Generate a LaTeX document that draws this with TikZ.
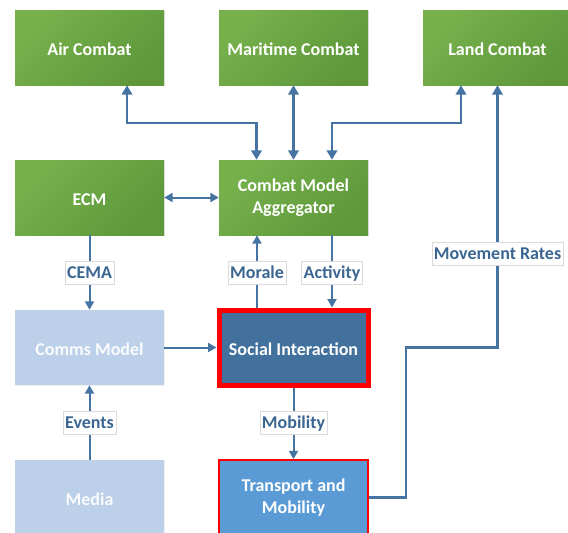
\documentclass[tikz,border=0pt]{standalone}
\usepackage{fontspec}
\setmainfont{Carlito}
\usetikzlibrary{arrows.meta,shadows}

\definecolor{gLight}{HTML}{76B14C}
\definecolor{gDark}{HTML}{5E983A}
\definecolor{paleBlue}{HTML}{BDD0E9}
\definecolor{deepBlue}{HTML}{41719C}
\definecolor{midBlue}{HTML}{5B9BD5}
\definecolor{wire}{HTML}{4674A2}
\definecolor{tagText}{HTML}{3A6691}
\definecolor{tagEdge}{HTML}{DADADA}
\definecolor{alert}{HTML}{FF0000}

\tikzset{
  box/.style={minimum width=149pt, minimum height=75pt, inner sep=0pt,
    align=center, text=white,
    execute at begin node={\rule{0pt}{16.5pt}},
    font=\bfseries\fontsize{18}{22}\selectfont},
  greenbox/.style={box, top color=gLight, bottom color=gDark, shading angle=45,
    drop shadow={opacity=0.18, shadow xshift=1pt, shadow yshift=-1pt}},
  palebox/.style={box, fill=paleBlue, text=white!92!paleBlue,
    drop shadow={opacity=0.12, shadow xshift=1pt, shadow yshift=-1pt}},
  socialbox/.style={box, fill=deepBlue, draw=alert, line width=5pt},
  transportbox/.style={box, fill=midBlue, draw=alert, line width=1.5pt},
  link/.style={draw=wire, line width=2pt,
    >={Triangle[length=8.5pt,width=9pt]}},
  fatlink/.style={draw=wire, line width=2.6pt,
    >={Triangle[length=9.5pt,width=10.5pt]}},
  tag/.style={fill=white, draw=tagEdge, line width=0.5pt, text=tagText,
    inner xsep=2pt, inner ysep=0pt, minimum height=23pt,
    text height=12.5pt, text depth=1.5pt,
    font=\bfseries\fontsize{18}{22}\selectfont},
}

\begin{document}
\begin{tikzpicture}[x=1pt,y=-1pt]
  \useasboundingbox (0,0) rectangle (568,533);
  \clip (0,0) rectangle (568,533);

  % model boxes
  \node[greenbox] (air)   at (89.5,47.5)   {Air Combat};
  \node[greenbox] (mar)   at (293.5,47.5)  {Maritime Combat};
  \node[greenbox] (land)  at (497.5,47.5)  {Land Combat};
  \node[greenbox] (ecm)   at (89.5,197.5)  {ECM};
  \node[greenbox] (agg)   at (293.5,197.5) {Combat Model\\Aggregator};
  \node[palebox]  (comms) at (89.5,347.5)  {Comms Model};
  \node[socialbox] (soc)  at (293.5,347.5) {Social Interaction};
  \node[palebox]  (media) at (89.5,497.5)  {Media};
  \node[transportbox] (trans) at (293.5,497.5) {Transport and\\Mobility};

  % aggregator to the combat models
  \draw[fatlink,<->] ([xshift=-37pt]agg.north) -- ++(0,-37) -| ([xshift=37.5pt]air.south);
  \draw[fatlink,<->] (agg.north) -- (mar.south);
  \draw[fatlink,<->] ([xshift=38.5pt]agg.north) -- ++(0,-37) -| ([xshift=-36.5pt]land.south);

  % remaining flows
  \draw[link,<->] (ecm.east) -- (agg.west);
  \draw[link,->] (ecm.south) -- (comms.north);
  \draw[link,->] ([xshift=-36.5pt]soc.north) -- ([xshift=-36.5pt]agg.south);
  \draw[link,->] ([xshift=38.5pt]agg.south) -- ([xshift=38.5pt]soc.north);
  \draw[link,->] (comms.east) -- (soc.west);
  \draw[link,->] (media.north) -- (comms.south);
  \draw[link,->] (soc.south) -- (trans.north);
  \draw[fatlink,line width=2.4pt,->] (trans.east) -- ++(37,0) -- ++(0,-150) -| (land.south);

  % flow labels
  \node[tag] (cema)     at (89.5,272.5)  {CEMA};
  \node[tag] (morale)   at (257,272.5)   {Morale};
  \node[tag] (activity) at (332,272.5)   {Activity};
  \node[tag] (events)   at (89.5,423)    {Events};
  \node[tag] (mobility) at (293.5,422.5) {Mobility};
  \node[tag] (rates)    at (497.5,254)   {Movement Rates};
\end{tikzpicture}
\end{document}
